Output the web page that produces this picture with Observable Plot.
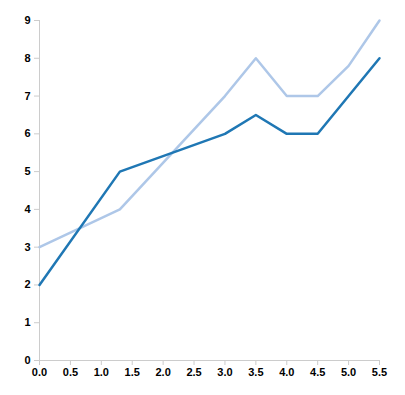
<!DOCTYPE html>
<html>
<head>
<meta charset="utf-8">
<script src="https://cdn.jsdelivr.net/npm/d3@7"></script>
<script src="https://cdn.jsdelivr.net/npm/@observablehq/plot@0.6"></script>
<style>
  html, body { margin: 0; padding: 0; background: #fff; }
</style>
</head>
<body>
<div id="chart"></div>
<script>
const xs = [0, 1.3, 3, 3.5, 4, 4.5, 5, 5.5];
const seriesA = [2, 5, 6, 6.5, 6, 6, 7, 8];
const seriesB = [3, 4, 7, 8, 7, 7, 7.8, 9];
const xTicks = [0, 0.5, 1, 1.5, 2, 2.5, 3, 3.5, 4, 4.5, 5, 5.5];
const yTicks = [0, 1, 2, 3, 4, 5, 6, 7, 8, 9];

const dataA = xs.map((x, i) => ({x, y: seriesA[i]}));
const dataB = xs.map((x, i) => ({x, y: seriesB[i]}));

const chart = Plot.plot({
  width: 405,
  height: 395,
  marginLeft: 39,
  marginRight: 26,
  marginTop: 20,
  marginBottom: 35,
  style: {fontFamily: "Liberation Sans, Arial, sans-serif", fontSize: "11px", fontWeight: "bold", background: "#fff", color: "black"},
  x: {domain: [0, 5.5]},
  y: {domain: [0, 9]},
  marks: [
    Plot.ruleX([0], {stroke: "#ccc"}),
    Plot.ruleY([0], {stroke: "#ccc"}),
    Plot.axisX(xTicks, {tickSize: 5, tickPadding: 3, stroke: "#ccc", fill: "black", tickFormat: d => d.toFixed(1), label: null}),
    Plot.axisY(yTicks, {tickSize: 5, tickPadding: 4, stroke: "#ccc", fill: "black", label: null}),
    Plot.line(dataB, {x: "x", y: "y", stroke: "#aec7e8", strokeWidth: 2.5}),
    Plot.line(dataA, {x: "x", y: "y", stroke: "#1f77b4", strokeWidth: 2.5})
  ]
});
document.getElementById("chart").appendChild(chart);
</script>
</body>
</html>
